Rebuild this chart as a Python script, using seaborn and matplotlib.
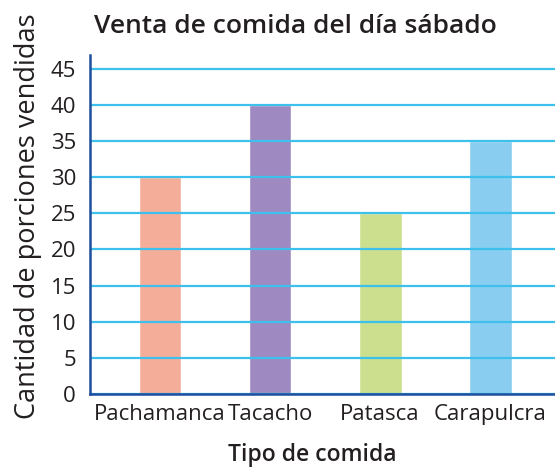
import matplotlib
matplotlib.use('Agg')
import matplotlib.pyplot as plt
import seaborn as sns
import pandas as pd

comidas = ['Pachamanca', 'Tacacho', 'Patasca', 'Carapulcra']
porciones = [30, 40, 25, 35]
colores = ['#f4ad99', '#9f89c1', '#cbdf8f', '#89cdf0']
yticks = [0, 5, 10, 15, 20, 25, 30, 35, 40, 45]

sns.set_style('white')
plt.rcParams['font.family'] = ['Open Sans', 'DejaVu Sans']

df = pd.DataFrame({'comida': comidas, 'porciones': porciones})

fig = plt.figure(figsize=(5.55, 4.68), dpi=100)
ax = fig.add_axes([90/555, 1 - 394/468, 465/555, (394 - 55)/468])

sns.barplot(data=df, x='comida', y='porciones', hue='comida', palette=colores,
            legend=False, width=0.39, saturation=1, ax=ax, zorder=1)

ax.set_xlim(-0.636, 3.59)
ax.set_ylim(0, 46.9)
ax.set_yticks(yticks)
ax.yaxis.grid(True, color='#3ec0ec', lw=1.6, zorder=3)
ax.set_axisbelow(False)
ax.xaxis.grid(False)

for s in ['top', 'right']:
    ax.spines[s].set_visible(False)
for s in ['left', 'bottom']:
    ax.spines[s].set_color('#1e4f9e')
    ax.spines[s].set_linewidth(1.8)
    ax.spines[s].set_zorder(4)

ax.tick_params(axis='y', direction='inout', length=10, width=1.5, color='#1e4f9e',
               labelsize=16, labelcolor='#231f20', pad=5)
ax.tick_params(axis='x', length=0, labelsize=16, labelcolor='#231f20', pad=7)

ax.set_xlabel('Tipo de comida', fontsize=16.5, fontweight='semibold', color='#231f20')
ax.set_ylabel('Cantidad de porciones vendidas', fontsize=19.5, color='#231f20')
ax.yaxis.set_label_coords(-0.104, 0.524)
ax.xaxis.set_label_coords(0.477, -0.146)

fig.text(295/555, 1 - 33/468, 'Venta de comida del día sábado', ha='center', va='baseline',
         fontsize=19, fontweight='semibold', color='#231f20')

fig.savefig('out.png', dpi=100)
